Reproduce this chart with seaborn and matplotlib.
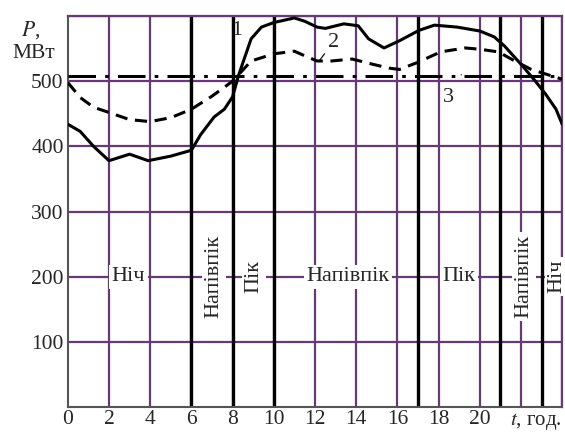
import pandas as pd
import matplotlib
matplotlib.use('Agg')
import matplotlib.pyplot as plt
import seaborn as sns

sns.set_style("white")
plt.rcParams['font.family'] = ['Liberation Serif', 'DejaVu Serif']
plt.rcParams['mathtext.fontset'] = 'stix'

# load curves (t in hours, P in MW)
t1 = [0, 0.6, 1.25, 2, 3, 3.9, 5, 6, 6.45, 7.1, 7.6, 8, 8.3, 8.9, 9.4, 10, 11,
      11.5, 12.1, 12.5, 13.4, 14.1, 14.6, 15.35, 16.1, 17.05, 17.8, 18.9, 20,
      20.7, 21.2, 22, 22.7, 23.2, 23.7, 24]
p1 = [434, 423, 400, 378, 388, 378, 385, 394, 418, 445, 457, 476, 510, 565,
      583, 590, 597, 592, 583, 581, 588, 585, 565, 551, 562, 578, 586, 583,
      577, 568, 554, 526, 500, 480, 457, 434]
t2 = [0, 0.6, 1.25, 2, 3, 4, 5, 6, 7, 8, 8.9, 10, 11, 11.5, 12.1, 12.8, 13.8,
      14.8, 15.6, 16.1, 17, 18.1, 19.3, 20, 20.9, 21.7, 22.5, 23.2, 24]
p2 = [498, 475, 460, 452, 441, 438, 444, 457, 477, 500, 531, 542, 546, 539,
      531, 531, 534, 526, 520, 518, 529, 545, 551, 549, 545, 531, 518, 511, 503]
t3 = [0, 24]
p3 = [508, 508]

zone_bounds = [6, 8, 10, 17, 21, 23]
zone_labels_h = [("Ніч", 2.95), ("Напівпік", 13.6), ("Пік", 19.0)]
zone_labels_v = [("Напівпік", 7.1), ("Пік", 9.05), ("Напівпік", 22.15), ("Ніч", 23.75)]

df1 = pd.DataFrame({'t': t1, 'P': p1})
df2 = pd.DataFrame({'t': t2, 'P': p2})
df3 = pd.DataFrame({'t': t3, 'P': p3})

grid_col = '#663a74'

fig = plt.figure(figsize=(5.65, 4.33), dpi=100)
ax = fig.add_axes([0.120, 0.060, 0.875, 0.903])

# grid
for gx in range(2, 25, 2):
    ax.axvline(gx, color=grid_col, lw=1.6, zorder=1)
for gy in range(100, 601, 100):
    ax.axhline(gy, color=grid_col, lw=1.6, zorder=1)
for b in zone_bounds:
    ax.axvline(b, color='black', lw=2.4, zorder=2)

sns.lineplot(data=df1, x='t', y='P', ax=ax, color='black', lw=2.2, zorder=4)
sns.lineplot(data=df2, x='t', y='P', ax=ax, color='black', lw=2.2,
             linestyle=(0, (4, 2.5)), zorder=4)
sns.lineplot(data=df3, x='t', y='P', ax=ax, color='black', lw=2.2,
             linestyle=(0, (9, 3, 1.2, 3)), zorder=4)

box = dict(facecolor='white', edgecolor='none', pad=2)
for txt, xpos in zone_labels_h:
    ax.text(xpos, 200, txt, ha='center', va='center', fontsize=16, bbox=box, zorder=5)
for txt, xpos in zone_labels_v:
    ax.text(xpos, 200, txt, ha='center', va='center', fontsize=16,
            rotation=90, bbox=box, zorder=5)

# curve numbers with leaders
ax.annotate('1', xy=(9.0, 568), xytext=(8.2, 578), fontsize=16, ha='center', va='center',
            arrowprops=dict(arrowstyle='-', color='black', lw=0.8, shrinkA=5, shrinkB=0))
ax.annotate('2', xy=(12.2, 531), xytext=(12.9, 560), fontsize=16, ha='center', va='center',
            arrowprops=dict(arrowstyle='-', color='black', lw=0.8, shrinkA=7, shrinkB=0))
ax.annotate('3', xy=(19.1, 510), xytext=(18.5, 475), fontsize=16, ha='center', va='center',
            arrowprops=dict(arrowstyle='-', color='black', lw=0.8, shrinkA=8, shrinkB=0))

ax.set_xlim(0, 24)
ax.set_ylim(0, 600)
ax.set_xticks(range(0, 21, 2))
ax.set_yticks(range(100, 501, 100))
ax.tick_params(axis='both', length=0, labelsize=15.5)
ax.tick_params(axis='x', pad=2)
ax.tick_params(axis='y', pad=3)
ax.set_xlabel('')
ax.set_ylabel('')

ax.text(22.7, -22, '$t$, год.', ha='center', va='center', fontsize=15)
ax.text(-1.8, 578, '$P$,', ha='center', va='center', fontsize=15.5)
ax.text(-1.66, 542, 'МВт', ha='center', va='center', fontsize=15.5)

for side in ['left', 'bottom']:
    ax.spines[side].set_color('#555555')
    ax.spines[side].set_linewidth(1.5)
for side in ['top', 'right']:
    ax.spines[side].set_color(grid_col)
    ax.spines[side].set_linewidth(1.6)

fig.savefig('out.png', dpi=100)
